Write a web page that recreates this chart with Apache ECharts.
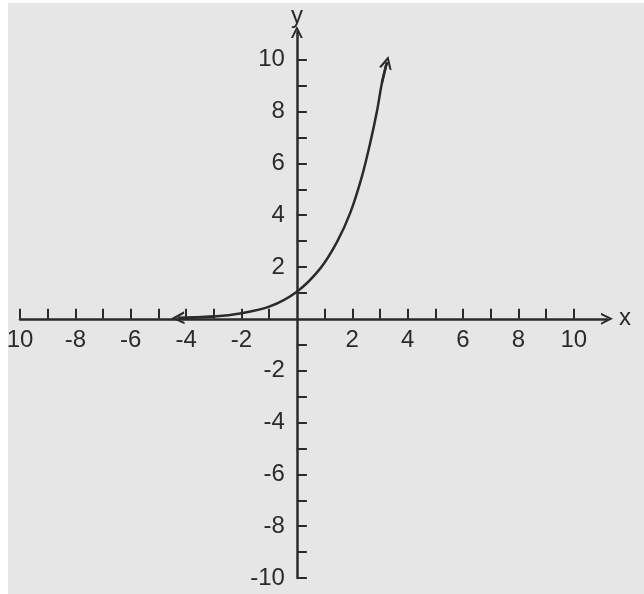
<!DOCTYPE html>
<html>
<head>
<meta charset="utf-8">
<script src="https://cdn.jsdelivr.net/npm/echarts@6/dist/echarts.min.js"></script>
<style>
  html, body { margin: 0; padding: 0; background: #fff; }
  #chart {
    width: 644px;
    height: 594px;
    background: #e6e6e6;
    box-shadow: inset 8px 3px 0 #fff;
  }
</style>
</head>
<body>
<div id="chart"></div>
<script>
// points
const curveX = [-4.3, -3, -2, -1, 0, 0.84, 1.45, 1.93, 2.35, 2.65, 2.89, 3.07, 3.25]
const curveY = [0.03, 0.09, 0.22, 0.47, 1.05, 1.94, 2.97, 4.1, 5.5, 6.8, 8.0, 9.1, 9.9]

const xTickValues = [-10, -9, -8, -7, -6, -5, -4, -3, -2, -1, 1, 2, 3, 4, 5, 6, 7, 8, 9, 10]
const xLabelValues = [-10, -8, -6, -4, -2, 2, 4, 6, 8, 10]
const xLabels = ['10', '-8', '-6', '-4', '-2', '2', '4', '6', '8', '10']

const yTickValues = [-10, -9, -8, -7, -6, -5, -4, -3, -2, -1, 1, 2, 3, 4, 5, 6, 7, 8, 9, 10]
const yLabelValues = [-10, -8, -6, -4, -2, 2, 4, 6, 8, 10]
const yLabels = ['-10', '-8', '-6', '-4', '-2', '2', '4', '6', '8', '10']

const ink = '#2b2b2b'
const font = 'Liberation Sans'
// open chevron, tip up
const chevron = 'path://M0,10 L5,0 L10,10 L8.2,10 L5,3.6 L1.8,10 Z'

const W = 644, H = 594
const grid = { left: 20, right: 37, top: 32, bottom: 16 }
const xMin = -10, xMax = 11.2
const yMin = -10, yMax = 11.07

// put the axes through the origin (labels follow them)
const gw = W - grid.left - grid.right
const gh = H - grid.top - grid.bottom
const xZeroFromLeft = (0 - xMin) / (xMax - xMin) * gw
const yZeroFromBottom = (0 - yMin) / (yMax - yMin) * gh

const chart = echarts.init(document.getElementById('chart'))

const n = curveX.length
const curveData = curveX.map((x, i) => [x, curveY[i]])

chart.setOption({
  animation: false,
  grid: Object.assign({ outerBoundsMode: 'none', containLabel: false }, grid),
  xAxis: {
    type: 'value',
    min: xMin,
    max: xMax,
    position: 'bottom',
    offset: -yZeroFromBottom,
    name: 'x',
    nameLocation: 'end',
    nameGap: 12,
    nameTextStyle: { color: ink, fontSize: 24, fontFamily: font, verticalAlign: 'middle' },
    axisLine: {
      onZero: false,
      symbol: ['none', chevron],
      symbolSize: [14, 12],
      lineStyle: { color: ink, width: 2.5 }
    },
    axisTick: {
      inside: true,
      length: 10,
      customValues: xTickValues,
      lineStyle: { color: ink, width: 2 }
    },
    axisLabel: {
      customValues: xLabelValues,
      formatter: v => xLabels[xLabelValues.indexOf(v)],
      margin: 10,
      color: ink,
      fontSize: 24,
      fontFamily: font
    },
    splitLine: { show: false }
  },
  yAxis: {
    type: 'value',
    min: yMin,
    max: yMax,
    position: 'left',
    offset: -xZeroFromLeft,
    name: 'y',
    nameLocation: 'end',
    nameGap: 4,
    nameTextStyle: { color: ink, fontSize: 24, fontFamily: font, align: 'center' },
    axisLine: {
      onZero: false,
      symbol: ['none', chevron],
      symbolSize: [14, 12],
      lineStyle: { color: ink, width: 2.5 }
    },
    axisTick: {
      inside: true,
      length: 10,
      customValues: yTickValues,
      lineStyle: { color: ink, width: 2 }
    },
    axisLabel: {
      customValues: yLabelValues,
      formatter: v => yLabels[yLabelValues.indexOf(v)],
      margin: 12,
      color: ink,
      fontSize: 24,
      fontFamily: font
    },
    splitLine: { show: false }
  },
  series: [{
    type: 'line',
    data: curveData,
    smooth: 0.3,
    showSymbol: false,
    lineStyle: { color: ink, width: 2.5 }
  }, {
    type: 'lines',
    coordinateSystem: 'cartesian2d',
    symbol: ['none', chevron],
    symbolSize: 13,
    lineStyle: { color: ink, width: 2.5, opacity: 1 },
    data: [
      { coords: [curveData[1], curveData[0]] },
      { coords: [curveData[n - 2], curveData[n - 1]] }
    ]
  }]
})
</script>
</body>
</html>
